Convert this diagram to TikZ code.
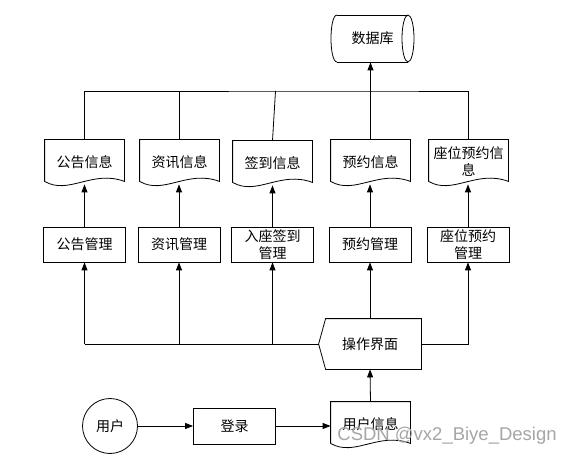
\documentclass[tikz,border=0pt]{standalone}
\usepackage{fontspec}
\setmainfont{Liberation Sans}
\newfontfamily\cjk{Noto Sans CJK SC}
\usetikzlibrary{arrows.meta,calc}
\newcommand\docshape[1]{\draw (#1.north west) -- (#1.north east) -- ($(#1.south east)+(0,-3)$) .. controls +(-32,-12) and +(24,14) .. ($(#1.south west)+(0,-3)$) -- cycle;}
\begin{document}
\begin{tikzpicture}[x=1pt,y=-1pt, line width=0.8pt,
 every node/.style={font=\cjk\fontsize{14}{17}\selectfont, inner sep=0pt},
 arr/.style={-{Triangle[length=8pt,width=6pt]}},
 mbox/.style={draw, minimum width=82pt, minimum height=35pt, align=center},
 docbox/.style={minimum width=79pt, minimum height=44pt, align=center, text width=74pt},
]
\useasboundingbox[fill=white] (0,0) rectangle (570,454);
% database
\node[minimum width=83pt,minimum height=47pt] (db) at (372.5,38.5) {数据库};
\draw (337,15) -- (408,15) (337,62) -- (408,62);
\draw (337,15) .. controls (329,15) and (329,62) .. (337,62);
\draw (408,38.5) ellipse[x radius=6, y radius=23.5];
% documents
\node[docbox] (d1) at (84.5,162) {公告信息};
\node[docbox] (d2) at (179.5,162) {资讯信息};
\node[docbox] (d3) at (272.5,163) {签到信息};
\node[docbox] (d4) at (370.5,162) {预约信息};
\node[docbox] (d5) at (468.5,162) {座位预约信\\息};
\foreach \n in {d1,d2,d3,d4,d5}{\docshape{\n}}
% management boxes
\node[mbox] (m1) at (84.5,244.5) {公告管理};
\node[mbox] (m2) at (179,244.5) {资讯管理};
\node[mbox] (m3) at (272.5,244.5) {入座签到\\管理};
\node[mbox] (m4) at (370,244.5) {预约管理};
\node[mbox] (m5) at (468,244.5) {座位预约\\管理};
% operation interface
\node[minimum width=102pt, minimum height=50pt] (op) at (370,344) {操作界面};
\draw (op.north east) -- (op.south east) -- ($(op.south west)+(7,0)$) -- (op.west) -- ($(op.north west)+(7,0)$) -- cycle;
% bottom row
\node[draw,circle,minimum size=55pt] (u) at (110,426) {用户};
\node[mbox, minimum height=36pt] (login) at (234.5,426) {登录};
\node[docbox] (ui) at (370.5,424) {用户信息};
\docshape{ui}
% connectors
\draw[arr] (u) -- (login);
\draw[arr] (login.east) -- (login.east -| ui.west);
\draw[arr] (ui.north) -- (op.south);
\draw (m1.south |- op.west) -- (op.west);
\foreach \m in {m1,m2,m3}{\draw[arr] (\m.south |- op.west) -- (\m.south);}
\draw[arr] (op.north) -- (op.north |- m4.south);
\draw[arr] (op.east) -| (m5.south);
\foreach \i in {1,...,5}{\draw[arr] (m\i.north) -- (m\i.north |- d\i.south);}
\coordinate (bus) at (370,91);
\draw (d1.north) |- (bus) -| (d5.north);
\draw (d2.north) -- (d2.north |- bus);
\draw (d3.north) -- ($(d3.north |- bus)+(3,0)$);
\draw[arr] (d4.north) -- (d4.north |- db.south);
% watermark
\node[font=\fontsize{18.5}{18.5}\selectfont, text=black!35, anchor=west] (wm) at (337,436) {CSDN @vx2\_Biye\_Design};
\end{tikzpicture}
\end{document}
